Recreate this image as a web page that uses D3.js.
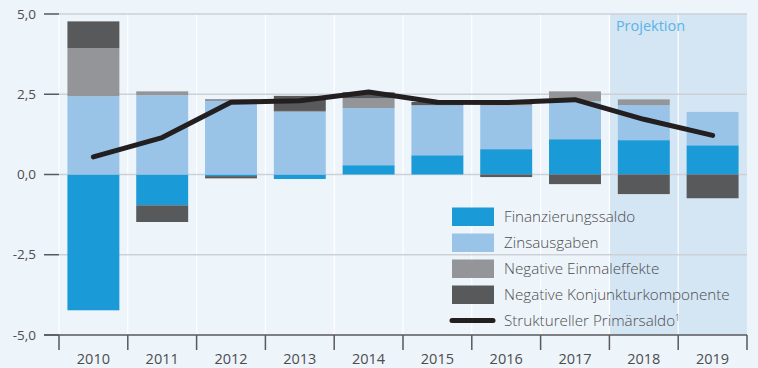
<!DOCTYPE html>
<html>
<head>
<meta charset="utf-8">
<script src="https://cdn.jsdelivr.net/npm/d3@7"></script>
<style>
  html, body { margin: 0; padding: 0; background: #EDF4FA; }
  svg { display: block; }
  text { font-family: "Open Sans", "Noto Sans", sans-serif; fill: #4D4D4F; }
</style>
</head>
<body>
<svg id="chart" width="758" height="368"></svg>
<script>
// Jahre und Komponenten (in % des BIP)
const years = ["2010", "2011", "2012", "2013", "2014", "2015", "2016", "2017", "2018", "2019"];
const finanzierungssaldo = [-4.23, -0.96, -0.05, -0.14, 0.29, 0.60, 0.79, 1.10, 1.07, 0.91];
const zinsausgaben = [2.44, 2.47, 2.29, 1.95, 1.78, 1.56, 1.36, 1.18, 1.09, 1.04];
const einmaleffekte = [1.49, 0.12, 0.06, 0.03, 0.30, 0.00, 0.10, 0.31, 0.18, 0.00];
const konjunkturkomponente = [0.84, -0.52, -0.07, 0.47, 0.19, 0.10, -0.08, -0.30, -0.61, -0.74];
const primaersaldo = [0.55, 1.15, 2.25, 2.30, 2.57, 2.25, 2.24, 2.33, 1.72, 1.22];
const projectionYears = ["2018", "2019"];
const yTicks = [-5, -2.5, 0, 2.5, 5];

const seriesKeys = ["fin", "zins", "einmal", "konj"];
const seriesLabels = {
  fin: "Finanzierungssaldo",
  zins: "Zinsausgaben",
  einmal: "Negative Einmaleffekte",
  konj: "Negative Konjunkturkomponente"
};
const colors = { fin: "#1A9AD7", zins: "#99C4E8", einmal: "#939598", konj: "#58595B" };

const rows = years.map((yr, i) => ({
  year: yr,
  fin: finanzierungssaldo[i],
  zins: zinsausgaben[i],
  einmal: einmaleffekte[i],
  konj: konjunkturkomponente[i]
}));

const svg = d3.select("#chart");
const plotLeft = 59, plotRight = 747, plotTop = 14, plotBottom = 335;

const x = d3.scaleBand().domain(years).range([plotLeft, plotRight])
  .paddingInner(0.245).paddingOuter(0.1225);
const step = x.step();
const gap = step * 0.245 / 2;
const y = d3.scaleLinear().domain([-5, 5]).range([plotBottom, plotTop]);

// Projektionszeitraum
const projStart = x(projectionYears[0]) - gap;
svg.append("rect")
  .attr("x", projStart).attr("y", plotTop)
  .attr("width", plotRight - projStart).attr("height", plotBottom - plotTop)
  .attr("fill", "#D4E5F4");

// vertikale Trennlinien zwischen den Jahren
const bounds = years.map(yr => x(yr) - gap).concat([plotRight]);
svg.append("g").selectAll("line").data(bounds.slice(0, -1)).join("line")
  .attr("x1", d => d).attr("x2", d => d)
  .attr("y1", plotTop).attr("y2", plotBottom)
  .attr("stroke", "#FFFFFF").attr("stroke-width", 1.2);

// horizontale Gitterlinien
svg.append("g").selectAll("line").data(yTicks.filter(t => t > -5)).join("line")
  .attr("x1", plotLeft).attr("x2", plotRight)
  .attr("y1", d => y(d)).attr("y2", d => y(d))
  .attr("stroke", "#CDD1D7").attr("stroke-width", 1.5);

// y-Achse: Striche und Beschriftung
svg.append("g").selectAll("line").data(yTicks).join("line")
  .attr("x1", 44).attr("x2", plotLeft)
  .attr("y1", d => y(d)).attr("y2", d => y(d))
  .attr("stroke", "#58595B").attr("stroke-width", 1.5);

const fmt = d => d3.format(".1f")(d).replace(".", ",").replace("−", "-");
svg.append("g").selectAll("text").data(yTicks).join("text")
  .attr("x", 36).attr("y", d => y(d))
  .attr("dy", "0.35em")
  .attr("text-anchor", "end")
  .attr("font-size", 13.5)
  .text(fmt);

// gestapelte Balken
const stack = d3.stack().keys(seriesKeys).offset(d3.stackOffsetDiverging);
const stacked = stack(rows);

svg.append("g").selectAll("g").data(stacked).join("g")
  .attr("fill", d => colors[d.key])
  .selectAll("rect").data(d => d).join("rect")
  .attr("x", d => x(d.data.year))
  .attr("width", x.bandwidth())
  .attr("y", d => y(Math.max(d[0], d[1])))
  .attr("height", d => Math.abs(y(d[0]) - y(d[1])));

// x-Achse
svg.append("line")
  .attr("x1", 44).attr("x2", plotRight)
  .attr("y1", plotBottom).attr("y2", plotBottom)
  .attr("stroke", "#58595B").attr("stroke-width", 1.5);
svg.append("g").selectAll("line").data(bounds).join("line")
  .attr("x1", d => d).attr("x2", d => d)
  .attr("y1", plotBottom).attr("y2", plotBottom + 15)
  .attr("stroke", "#58595B").attr("stroke-width", 1.5);
svg.append("g").selectAll("text").data(years).join("text")
  .attr("x", d => x(d) + x.bandwidth() / 2)
  .attr("y", 364)
  .attr("text-anchor", "middle")
  .attr("font-size", 14.5)
  .text(d => d);

// Struktureller Primärsaldo
const line = d3.line()
  .x((d, i) => x(years[i]) + x.bandwidth() / 2)
  .y(d => y(d));
svg.append("path")
  .datum(primaersaldo)
  .attr("d", line)
  .attr("fill", "none")
  .attr("stroke", "#231F20")
  .attr("stroke-width", 5)
  .attr("stroke-linejoin", "round")
  .attr("stroke-linecap", "round");

// Projektion
svg.append("text")
  .attr("x", projStart + 6.5).attr("y", 31)
  .attr("font-size", 14.5)
  .style("fill", "#5AB4E5")
  .text("Projektion");

// Legende
const legend = svg.append("g").attr("font-weight", 300);
seriesKeys.forEach((k, i) => {
  const yy = 207.5 + i * 26;
  legend.append("rect")
    .attr("x", 452).attr("y", yy).attr("width", 42).attr("height", 18.5)
    .attr("fill", colors[k]);
  legend.append("text")
    .attr("x", 504).attr("y", yy + 9.5).attr("dy", "0.35em")
    .attr("font-size", 15.2)
    .text(seriesLabels[k]);
});
legend.append("line")
  .attr("x1", 452).attr("x2", 493).attr("y1", 320.5).attr("y2", 320.5)
  .attr("stroke", "#231F20").attr("stroke-width", 5).attr("stroke-linecap", "round");
const lt = legend.append("text")
  .attr("x", 504).attr("y", 320.5).attr("dy", "0.35em")
  .attr("font-size", 15.2);
lt.append("tspan").text("Struktureller Primärsaldo");
lt.append("tspan").attr("font-size", 8.5).attr("dy", "-0.6em").text("1");
</script>
</body>
</html>
